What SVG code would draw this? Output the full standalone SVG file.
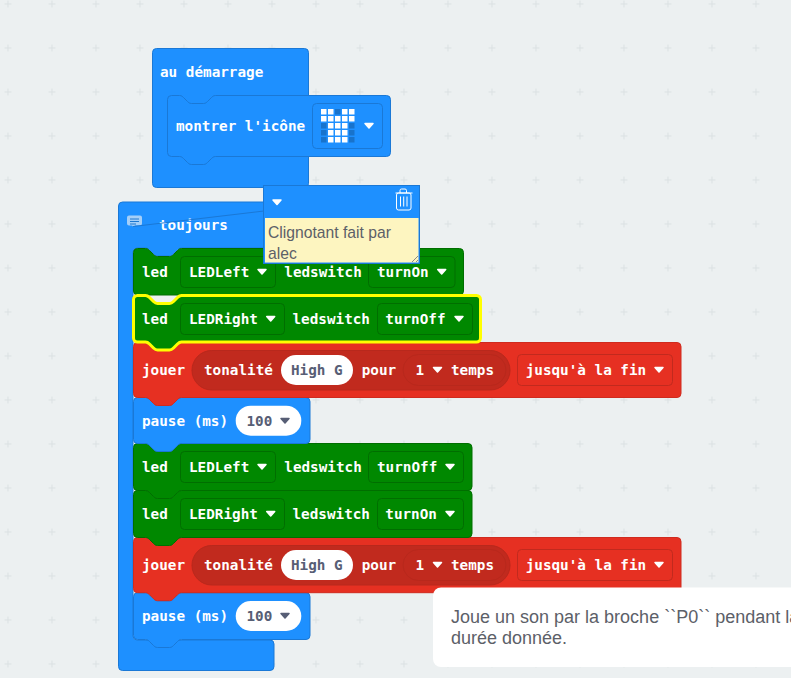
<svg xmlns="http://www.w3.org/2000/svg" xmlns:xlink="http://www.w3.org/1999/xlink" width="791" height="678" viewBox="0 0 791 678">
<style>
text{font-family:"DejaVu Sans Mono","Liberation Mono",monospace;font-weight:700;font-size:14.3px;fill:#fff}
.blue{fill:#1e90ff;stroke:#1a78d6;stroke-width:1}
.green{fill:#008800;stroke:#006e00;stroke-width:1}
.red{fill:#e63022;stroke:#cf2b1f;stroke-width:1}
.gf{fill:#008800;stroke:#006e00;stroke-width:1}
.rf{fill:#e63022;stroke:#c12a1e;stroke-width:1}
.rp{fill:#c12a1e;stroke:#b8281c;stroke-width:1}
.wp{fill:#fff}
.dark{fill:#575e75}
.sans{font-family:"Liberation Sans",Arial,sans-serif;font-weight:400;fill:#5c6068}
.cm{font-size:15.7px}
.tip{font-size:18px}
.on{fill:#fff}.off{fill:#1873cc}
</style>
<defs>
<pattern id="grid" x="4" y="0" width="44" height="44" patternUnits="userSpaceOnUse">
<path d="M4,0.500V7.500M0.500,4H7.500" stroke="#dbe1e3" stroke-width="1" fill="none"/>
</pattern>
<path id="arr" d="M-4,-2H4L0,2.500Z" fill="#fff" stroke="#fff" stroke-width="1.500" stroke-linejoin="round"/>
<path id="arrd" d="M-4,-2H4L0,2.500Z" fill="#575e75" stroke="#575e75" stroke-width="1.500" stroke-linejoin="round"/>
</defs>
<rect width="791" height="678" fill="#ecf0f1"/>
<rect width="791" height="678" fill="url(#grid)"/>

<g id="start-block">
<rect class="blue" x="152.500" y="48.500" width="156" height="139" rx="4"/>
<text x="160" y="77">au démarrage</text>
<path class="blue" d="M167.500,99.500a4,4 0 0 1 4,-4h8c2,0 3,1 4,2l4,4c1,1 2,2 4,2h12c2,0 3,-1 4,-2l4,-4c1,-1 2,-2 4,-2H386.500a4,4 0 0 1 4,4V152.500a4,4 0 0 1 -4,4H215.500c-2,0 -3,1 -4,2l-4,4c-1,1 -2,2 -4,2h-12c-2,0 -3,-1 -4,-2l-4,-4c-1,-1 -2,-2 -4,-2H171.500a4,4 0 0 1 -4,-4Z"/>
<text x="176" y="131">montrer l'icône</text>
<rect class="blue" x="312.500" y="103.500" width="70" height="45" rx="4"/>
<g>
<rect class="on" x="321" y="109" width="5.500" height="5.500"/><rect class="on" x="328" y="109" width="5.500" height="5.500"/><rect class="off" x="335" y="109" width="5.500" height="5.500"/><rect class="on" x="342" y="109" width="5.500" height="5.500"/><rect class="on" x="349" y="109" width="5.500" height="5.500"/>
<rect class="on" x="321" y="116" width="5.500" height="5.500"/><rect class="on" x="328" y="116" width="5.500" height="5.500"/><rect class="on" x="335" y="116" width="5.500" height="5.500"/><rect class="on" x="342" y="116" width="5.500" height="5.500"/><rect class="on" x="349" y="116" width="5.500" height="5.500"/>
<rect class="off" x="321" y="123" width="5.500" height="5.500"/><rect class="on" x="328" y="123" width="5.500" height="5.500"/><rect class="on" x="335" y="123" width="5.500" height="5.500"/><rect class="on" x="342" y="123" width="5.500" height="5.500"/><rect class="off" x="349" y="123" width="5.500" height="5.500"/>
<rect class="off" x="321" y="130" width="5.500" height="5.500"/><rect class="on" x="328" y="130" width="5.500" height="5.500"/><rect class="on" x="335" y="130" width="5.500" height="5.500"/><rect class="on" x="342" y="130" width="5.500" height="5.500"/><rect class="off" x="349" y="130" width="5.500" height="5.500"/>
<rect class="off" x="321" y="137" width="5.500" height="5.500"/><rect class="on" x="328" y="137" width="5.500" height="5.500"/><rect class="on" x="335" y="137" width="5.500" height="5.500"/><rect class="on" x="342" y="137" width="5.500" height="5.500"/><rect class="off" x="349" y="137" width="5.500" height="5.500"/>
</g>
<use xlink:href="#arr" href="#arr" x="369" y="125.500"/>
</g>

<g id="forever-block">
<path class="blue" d="M118.500,206a4,4 0 0 1 4,-4H270a4,4 0 0 1 4,4V244a4,4 0 0 1 -4,4H181.500c-2,0 -3,1 -4,2l-4,4c-1,1 -2,2 -4,2h-12c-2,0 -3,-1 -4,-2l-4,-4c-1,-1 -2,-2 -4,-2H137a4,4 0 0 0 -4,4V636a4,4 0 0 0 4,4H270a4,4 0 0 1 4,4V666.500a4,4 0 0 1 -4,4H122.500a4,4 0 0 1 -4,-4Z"/>
<text x="159" y="230">toujours</text>
<path d="M129,215.500h11a2,2 0 0 1 2,2v6a2,2 0 0 1 -2,2h-5l-1.500,1.500l-1.500,-1.500h-3a2,2 0 0 1 -2,-2v-6a2,2 0 0 1 2,-2Z" fill="#a5cff8"/>
<path d="M130,219h9M130,221.500h9M130,224h6" stroke="#1e78d0" stroke-width="1" fill="none"/>
</g>

<g id="pause-2">
<path class="blue" d="M133.500,596.700a4,4 0 0 1 4,-4h8c2,0 3,1 4,2l4,4c1,1 2,2 4,2h12c2,0 3,-1 4,-2l4,-4c1,-1 2,-2 4,-2H306a4,4 0 0 1 4,4V635.500a4,4 0 0 1 -4,4H181.500c-2,0 -3,1 -4,2l-4,4c-1,1 -2,2 -4,2h-12c-2,0 -3,-1 -4,-2l-4,-4c-1,-1 -2,-2 -4,-2H137.500a4,4 0 0 1 -4,-4Z"/>
<text x="142" y="621">pause (ms)</text>
<rect class="wp" x="235.700" y="601" width="65.600" height="30" rx="15"/>
<text class="dark" x="246.500" y="621">100</text>
<use xlink:href="#arrd" href="#arrd" x="285" y="615.500"/>
</g>

<g id="play-2">
<path class="red" d="M133.500,541.500a4,4 0 0 1 4,-4h8c2,0 3,1 4,2l4,4c1,1 2,2 4,2h12c2,0 3,-1 4,-2l4,-4c1,-1 2,-2 4,-2H677a4,4 0 0 1 4,4V588.700a4,4 0 0 1 -4,4H181.500c-2,0 -3,1 -4,2l-4,4c-1,1 -2,2 -4,2h-12c-2,0 -3,-1 -4,-2l-4,-4c-1,-1 -2,-2 -4,-2H137.500a4,4 0 0 1 -4,-4Z"/>
<text x="142" y="570">jouer</text>
<rect class="rp" x="192" y="545.500" width="318" height="39.500" rx="19.700"/>
<text x="204" y="570">tonalité</text>
<rect class="wp" x="281" y="550" width="72" height="30" rx="15"/>
<text class="dark" x="291" y="570">High G</text>
<text x="361.700" y="570">pour</text>
<rect class="rp" x="403" y="549.500" width="103" height="31" rx="15.500"/>
<text x="415.500" y="570">1</text>
<use xlink:href="#arr" href="#arr" x="437.500" y="564.500"/>
<text x="451" y="570">temps</text>
<rect class="rf" x="517.500" y="549.500" width="155" height="31" rx="4"/>
<text x="525.700" y="570">jusqu'à la fin</text>
<use xlink:href="#arr" href="#arr" x="659" y="564.500"/>
</g>

<g id="led-4">
<path class="green" d="M133.500,494.500a4,4 0 0 1 4,-4h8c2,0 3,1 4,2l4,4c1,1 2,2 4,2h12c2,0 3,-1 4,-2l4,-4c1,-1 2,-2 4,-2H468a4,4 0 0 1 4,4V533.500a4,4 0 0 1 -4,4H181.500c-2,0 -3,1 -4,2l-4,4c-1,1 -2,2 -4,2h-12c-2,0 -3,-1 -4,-2l-4,-4c-1,-1 -2,-2 -4,-2H137.500a4,4 0 0 1 -4,-4Z"/>
<text x="142" y="519">led</text>
<rect class="gf" x="180.500" y="498.500" width="104" height="31" rx="4"/>
<text x="189" y="519">LEDRight</text>
<use xlink:href="#arr" href="#arr" x="270.700" y="513.500"/>
<text x="292.500" y="519">ledswitch</text>
<rect class="gf" x="377.500" y="498.500" width="86" height="31" rx="4"/>
<text x="385.300" y="519">turnOn</text>
<use xlink:href="#arr" href="#arr" x="450" y="513.500"/>
</g>

<g id="led-3">
<path class="green" d="M133.500,447.500a4,4 0 0 1 4,-4h8c2,0 3,1 4,2l4,4c1,1 2,2 4,2h12c2,0 3,-1 4,-2l4,-4c1,-1 2,-2 4,-2H468a4,4 0 0 1 4,4V486.500a4,4 0 0 1 -4,4H181.500c-2,0 -3,1 -4,2l-4,4c-1,1 -2,2 -4,2h-12c-2,0 -3,-1 -4,-2l-4,-4c-1,-1 -2,-2 -4,-2H137.500a4,4 0 0 1 -4,-4Z"/>
<text x="142" y="472">led</text>
<rect class="gf" x="180.500" y="451.500" width="95" height="31" rx="4"/>
<text x="189" y="472">LEDLeft</text>
<use xlink:href="#arr" href="#arr" x="262" y="466.500"/>
<text x="284.300" y="472">ledswitch</text>
<rect class="gf" x="368.500" y="451.500" width="95" height="31" rx="4"/>
<text x="377" y="472">turnOff</text>
<use xlink:href="#arr" href="#arr" x="450" y="466.500"/>
</g>

<g id="pause-1">
<path class="blue" d="M133.500,401.500a4,4 0 0 1 4,-4h8c2,0 3,1 4,2l4,4c1,1 2,2 4,2h12c2,0 3,-1 4,-2l4,-4c1,-1 2,-2 4,-2H306a4,4 0 0 1 4,4V439.500a4,4 0 0 1 -4,4H181.500c-2,0 -3,1 -4,2l-4,4c-1,1 -2,2 -4,2h-12c-2,0 -3,-1 -4,-2l-4,-4c-1,-1 -2,-2 -4,-2H137.500a4,4 0 0 1 -4,-4Z"/>
<text x="142" y="426">pause (ms)</text>
<rect class="wp" x="235.700" y="405.700" width="65.600" height="30" rx="15"/>
<text class="dark" x="246.500" y="426">100</text>
<use xlink:href="#arrd" href="#arrd" x="285" y="420.500"/>
</g>

<g id="play-1">
<path class="red" d="M133.500,346.500a4,4 0 0 1 4,-4h8c2,0 3,1 4,2l4,4c1,1 2,2 4,2h12c2,0 3,-1 4,-2l4,-4c1,-1 2,-2 4,-2H677a4,4 0 0 1 4,4V393.500a4,4 0 0 1 -4,4H181.500c-2,0 -3,1 -4,2l-4,4c-1,1 -2,2 -4,2h-12c-2,0 -3,-1 -4,-2l-4,-4c-1,-1 -2,-2 -4,-2H137.500a4,4 0 0 1 -4,-4Z"/>
<text x="142" y="375">jouer</text>
<rect class="rp" x="192" y="350.500" width="318" height="39.500" rx="19.700"/>
<text x="204" y="375">tonalité</text>
<rect class="wp" x="281" y="355" width="72" height="30" rx="15"/>
<text class="dark" x="291" y="375">High G</text>
<text x="361.700" y="375">pour</text>
<rect class="rp" x="403" y="354.500" width="103" height="31" rx="15.500"/>
<text x="415.500" y="375">1</text>
<use xlink:href="#arr" href="#arr" x="437.500" y="369.500"/>
<text x="451" y="375">temps</text>
<rect class="rf" x="517.500" y="354.500" width="155" height="31" rx="4"/>
<text x="525.700" y="375">jusqu'à la fin</text>
<use xlink:href="#arr" href="#arr" x="659" y="369.500"/>
</g>

<g id="led-1">
<path class="green" d="M133.500,252.500a4,4 0 0 1 4,-4h8c2,0 3,1 4,2l4,4c1,1 2,2 4,2h12c2,0 3,-1 4,-2l4,-4c1,-1 2,-2 4,-2H459.500a4,4 0 0 1 4,4V291a4,4 0 0 1 -4,4H137.500a4,4 0 0 1 -4,-4Z"/>
<text x="142" y="277">led</text>
<rect class="gf" x="180.500" y="256.500" width="95" height="31" rx="4"/>
<text x="189" y="277">LEDLeft</text>
<use xlink:href="#arr" href="#arr" x="262" y="271.500"/>
<text x="284.300" y="277">ledswitch</text>
<rect class="gf" x="368.500" y="256.500" width="86.500" height="31" rx="4"/>
<text x="377" y="277">turnOn</text>
<use xlink:href="#arr" href="#arr" x="441.700" y="271.500"/>
</g>

<g id="led-2-selected">
<path d="M133.500,299.500a4,4 0 0 1 4,-4h8c2,0 3,1 4,2l4,4c1,1 2,2 4,2h12c2,0 3,-1 4,-2l4,-4c1,-1 2,-2 4,-2H476.500a4,4 0 0 1 4,4V338a4,4 0 0 1 -4,4H181.500c-2,0 -3,1 -4,2l-4,4c-1,1 -2,2 -4,2h-12c-2,0 -3,-1 -4,-2l-4,-4c-1,-1 -2,-2 -4,-2H137.500a4,4 0 0 1 -4,-4Z" fill="#008800" stroke="#ffff00" stroke-width="3"/>
<text x="142" y="324">led</text>
<rect class="gf" x="180.500" y="303.500" width="104" height="31" rx="4"/>
<text x="189" y="324">LEDRight</text>
<use xlink:href="#arr" href="#arr" x="270.700" y="318.500"/>
<text x="292.500" y="324">ledswitch</text>
<rect class="gf" x="377.500" y="303.500" width="95" height="31" rx="4"/>
<text x="385.300" y="324">turnOff</text>
<use xlink:href="#arr" href="#arr" x="459" y="318.500"/>
</g>

<g id="connectors">
<path d="M133,226.500L264,211" stroke="#1a78d6" stroke-width="1" fill="none"/>
</g>

<g id="comment">
<rect x="263.500" y="185.500" width="156" height="78" fill="#1e90ff" stroke="#1a78d6" stroke-width="1"/>
<rect x="265" y="218" width="153.500" height="44.500" fill="#fdf5c0"/>
<use xlink:href="#arr" href="#arr" x="277" y="202"/>
<g fill="none" stroke="#fff" stroke-width="1">
<path d="M395.500,193H412.500M400,193V190.500a1.500,1.500 0 0 1 1.500,-1.500h3.500a1.500,1.500 0 0 1 1.500,1.500V193"/>
<rect x="396.500" y="193" width="14.500" height="17" rx="2"/>
<path d="M400.500,196.500V206.500M403.700,196.500V206.500M407,196.500V206.500"/>
</g>
<text class="sans cm" x="268" y="238">Clignotant fait par</text>
<text class="sans cm" x="268" y="259">alec</text>
<path d="M412,262L418,256M416,262L418,260" stroke="#8a8a8a" stroke-width="1" fill="none"/>
</g>

<g id="tooltip">
<path d="M791,587.500H441a8,8 0 0 0 -8,8V659a8,8 0 0 0 8,8H791Z" fill="#fff"/>
<text class="sans tip" x="451" y="623">Joue un son par la broche ``P0`` pendant la</text>
<text class="sans tip" x="451" y="644">durée donnée.</text>
</g>
</svg>
